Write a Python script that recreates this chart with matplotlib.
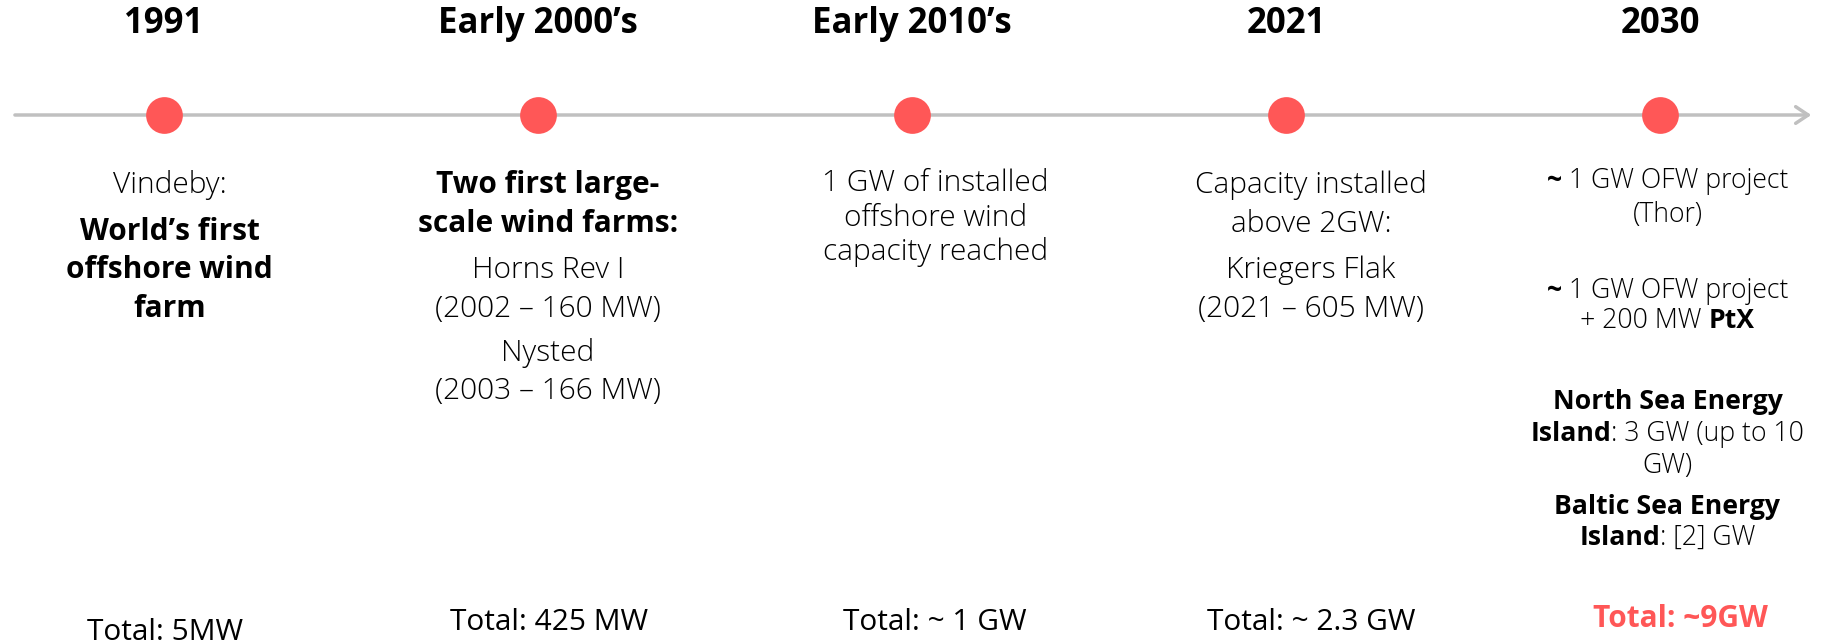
import matplotlib.pyplot as plt
import matplotlib.transforms as mtransforms

# ---------------------------------
# Data
# ---------------------------------
milestones = ["1991", "Early 2000\u2019s", "Early 2010\u2019s", "2021", "2030"]

# each description: list of lines, each line = list of (text, bold) segments
descriptions = [
    [[("Vindeby:", False)],
     [("World\u2019s first", True)],
     [("offshore wind", True)],
     [("farm", True)]],
    [[("Two first large-", True)],
     [("scale wind farms:", True)],
     [("Horns Rev I", False)],
     [("(2002 \u2013 160 MW)", False)],
     [("Nysted", False)],
     [("(2003 \u2013 166 MW)", False)]],
    [[("1 GW of installed", False)],
     [("offshore wind", False)],
     [("capacity reached", False)]],
    [[("Capacity installed", False)],
     [("above 2GW:", False)],
     [("Kriegers Flak", False)],
     [("(2021 \u2013 605 MW)", False)]],
    [[("~", True), (" 1 GW OFW project", False)],
     [("(Thor)", False)],
     [("~", True), (" 1 GW OFW project", False)],
     [("+ 200 MW ", False), ("PtX", True)],
     [("North Sea Energy", True)],
     [("Island", True), (": 3 GW (up to 10", False)],
     [("GW)", False)],
     [("Baltic Sea Energy", True)],
     [("Island", True), (": [2] GW", False)]],
]

totals = ["Total: 5MW", "Total: 425 MW", "Total: ~ 1 GW", "Total: ~ 2.3 GW", "Total: ~9GW"]

# ---------------------------------
# Layout (pixels from top, figure is 1835x640)
# ---------------------------------
line_y = 115
title_y = 24
desc_dx = [0.015, 0.027, 0.062, 0.067, 0.02]
desc_y = [
    [185, 232, 270, 309],
    [185, 224, 270, 309, 353, 391],
    [183, 218, 252],
    [185, 224, 270, 309],
    [181, 215, 291, 321, 402, 434, 466, 507, 538],
]
desc_size = [21.5, 21.5, 21.5, 21.5, 19.2]
total_dx = [0.003, 0.03, 0.062, 0.067, 0.056]
total_y = [632, 622, 622, 622, 619]

red = "#FF5757"
grey = "#C0C0C0"
font = "Open Sans"

fig = plt.figure(figsize=(18.35, 6.4), dpi=100)
ax = fig.add_axes([0, 0, 1, 1])
ax.set_xlim(-0.4385, 4.468)
ax.set_ylim(640, 0)
ax.axis("off")

renderer = fig.canvas.get_renderer()


def draw_line(x, y, parts, size, color="black", normal="light"):
    texts = []
    for s, bold in parts:
        t = ax.text(x, y, s, fontsize=size, family=font,
                    fontweight="bold" if bold else normal,
                    ha="left", va="center", color=color)
        texts.append(t)
    widths = [t.get_window_extent(renderer).width for t in texts]
    offset = -sum(widths) / 2
    for t, w in zip(texts, widths):
        t.set_transform(mtransforms.offset_copy(ax.transData, fig=fig,
                                                x=offset, y=0, units="dots"))
        offset += w


# ---------------------------------
# Timeline arrow + dots
# ---------------------------------
xs = list(range(len(milestones)))
ax.annotate("", xy=(4.412, line_y), xytext=(-0.406, line_y),
            arrowprops=dict(arrowstyle="->,head_length=0.9,head_width=0.6",
                            color=grey, lw=2.5))
ax.scatter(xs, [line_y] * len(xs), s=700, color=red, zorder=3, linewidths=0)

# ---------------------------------
# Texts
# ---------------------------------
for i, name in enumerate(milestones):
    ax.text(i, title_y, name, fontsize=25, family=font, fontweight="bold",
            ha="center", va="center")
    for parts, y in zip(descriptions[i], desc_y[i]):
        draw_line(i + desc_dx[i], y, parts, desc_size[i])
    last = i == len(milestones) - 1
    ax.text(i + total_dx[i], total_y[i], totals[i], fontsize=21.5, family=font,
            fontweight="bold" if last else "normal",
            color=red if last else "black", ha="center", va="center")

fig.savefig("out.png", dpi=100)
